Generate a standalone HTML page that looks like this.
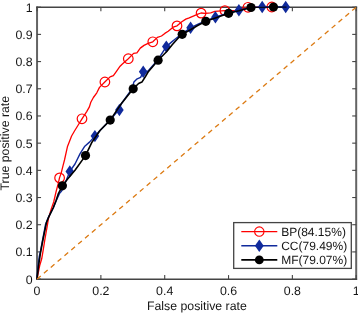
<!DOCTYPE html>
<html><head><meta charset="utf-8"><title>ROC</title>
<style>
html,body{margin:0;padding:0;background:#fff;}
body{width:358px;height:313px;overflow:hidden;}
svg text{font-family:"Liberation Sans",sans-serif;fill:#151515;text-rendering:geometricPrecision;}
.t{font-size:12.35px}
.l{font-size:12.3px}
.g{font-size:12px}
</style></head><body>
<svg width="358" height="313" viewBox="0 0 358 313" style="display:block">
<rect width="358" height="313" fill="#fff"/>
<path d="M37.05,279.95 L37.05,6.45 M356.2,6.45 L356.2,279.95" fill="none" stroke="#646464" stroke-width="2"/>
<path d="M36.15,7.2 L357.09999999999997,7.2 M36.15,279.2 L357.09999999999997,279.2" fill="none" stroke="#444" stroke-width="1.4"/>
<line x1="37.05" y1="279.10" x2="41.05" y2="279.10" stroke="#444" stroke-width="1.1"/>
<line x1="356.2" y1="279.10" x2="352.2" y2="279.10" stroke="#444" stroke-width="1.1"/>
<text x="32.65" y="283.60" text-anchor="end" class="t">0</text>
<line x1="37.05" y1="251.91" x2="41.05" y2="251.91" stroke="#444" stroke-width="1.1"/>
<line x1="356.2" y1="251.91" x2="352.2" y2="251.91" stroke="#444" stroke-width="1.1"/>
<text x="32.65" y="256.41" text-anchor="end" class="t">0.1</text>
<line x1="37.05" y1="224.72" x2="41.05" y2="224.72" stroke="#444" stroke-width="1.1"/>
<line x1="356.2" y1="224.72" x2="352.2" y2="224.72" stroke="#444" stroke-width="1.1"/>
<text x="32.65" y="229.22" text-anchor="end" class="t">0.2</text>
<line x1="37.05" y1="197.53" x2="41.05" y2="197.53" stroke="#444" stroke-width="1.1"/>
<line x1="356.2" y1="197.53" x2="352.2" y2="197.53" stroke="#444" stroke-width="1.1"/>
<text x="32.65" y="202.03" text-anchor="end" class="t">0.3</text>
<line x1="37.05" y1="170.34" x2="41.05" y2="170.34" stroke="#444" stroke-width="1.1"/>
<line x1="356.2" y1="170.34" x2="352.2" y2="170.34" stroke="#444" stroke-width="1.1"/>
<text x="32.65" y="174.84" text-anchor="end" class="t">0.4</text>
<line x1="37.05" y1="143.15" x2="41.05" y2="143.15" stroke="#444" stroke-width="1.1"/>
<line x1="356.2" y1="143.15" x2="352.2" y2="143.15" stroke="#444" stroke-width="1.1"/>
<text x="32.65" y="147.65" text-anchor="end" class="t">0.5</text>
<line x1="37.05" y1="115.96" x2="41.05" y2="115.96" stroke="#444" stroke-width="1.1"/>
<line x1="356.2" y1="115.96" x2="352.2" y2="115.96" stroke="#444" stroke-width="1.1"/>
<text x="32.65" y="120.46" text-anchor="end" class="t">0.6</text>
<line x1="37.05" y1="88.77" x2="41.05" y2="88.77" stroke="#444" stroke-width="1.1"/>
<line x1="356.2" y1="88.77" x2="352.2" y2="88.77" stroke="#444" stroke-width="1.1"/>
<text x="32.65" y="93.27" text-anchor="end" class="t">0.7</text>
<line x1="37.05" y1="61.58" x2="41.05" y2="61.58" stroke="#444" stroke-width="1.1"/>
<line x1="356.2" y1="61.58" x2="352.2" y2="61.58" stroke="#444" stroke-width="1.1"/>
<text x="32.65" y="66.08" text-anchor="end" class="t">0.8</text>
<line x1="37.05" y1="34.39" x2="41.05" y2="34.39" stroke="#444" stroke-width="1.1"/>
<line x1="356.2" y1="34.39" x2="352.2" y2="34.39" stroke="#444" stroke-width="1.1"/>
<text x="32.65" y="38.89" text-anchor="end" class="t">0.9</text>
<line x1="37.05" y1="7.20" x2="41.05" y2="7.20" stroke="#444" stroke-width="1.1"/>
<line x1="356.2" y1="7.20" x2="352.2" y2="7.20" stroke="#444" stroke-width="1.1"/>
<text x="32.65" y="11.70" text-anchor="end" class="t">1</text>
<line x1="37.05" y1="279.1" x2="37.05" y2="275.1" stroke="#444" stroke-width="1.1"/>
<line x1="37.05" y1="7.2" x2="37.05" y2="11.2" stroke="#444" stroke-width="1.1"/>
<text x="37.05" y="295.3" text-anchor="middle" class="t">0</text>
<line x1="100.88" y1="279.1" x2="100.88" y2="275.1" stroke="#444" stroke-width="1.1"/>
<line x1="100.88" y1="7.2" x2="100.88" y2="11.2" stroke="#444" stroke-width="1.1"/>
<text x="100.88" y="295.3" text-anchor="middle" class="t">0.2</text>
<line x1="164.71" y1="279.1" x2="164.71" y2="275.1" stroke="#444" stroke-width="1.1"/>
<line x1="164.71" y1="7.2" x2="164.71" y2="11.2" stroke="#444" stroke-width="1.1"/>
<text x="164.71" y="295.3" text-anchor="middle" class="t">0.4</text>
<line x1="228.54" y1="279.1" x2="228.54" y2="275.1" stroke="#444" stroke-width="1.1"/>
<line x1="228.54" y1="7.2" x2="228.54" y2="11.2" stroke="#444" stroke-width="1.1"/>
<text x="228.54" y="295.3" text-anchor="middle" class="t">0.6</text>
<line x1="292.37" y1="279.1" x2="292.37" y2="275.1" stroke="#444" stroke-width="1.1"/>
<line x1="292.37" y1="7.2" x2="292.37" y2="11.2" stroke="#444" stroke-width="1.1"/>
<text x="292.37" y="295.3" text-anchor="middle" class="t">0.8</text>
<line x1="356.20" y1="279.1" x2="356.20" y2="275.1" stroke="#444" stroke-width="1.1"/>
<line x1="356.20" y1="7.2" x2="356.20" y2="11.2" stroke="#444" stroke-width="1.1"/>
<text x="356.20" y="295.3" text-anchor="middle" class="t">1</text>
<path d="M37.0,279.0 L38.4,272.0 L39.7,265.5 L41.7,258.8 L43.1,250.7 L44.8,240.0 L46.0,233.0 L47.1,226.8 L48.4,218.8 L51.1,209.4 L53.7,202.0 L56.0,192.0 L58.4,182.8 L59.5,177.9 L61.1,173.4 L63.1,165.4 L64.5,160.0 L67.4,146.8 L71.6,136.0 L74.5,131.0 L77.9,125.5 L82.0,118.8 L86.7,111.6 L89.4,106.9 L90.8,102.2 L93.4,97.5 L96.8,92.8 L99.5,87.4 L104.8,82.0 L110.1,76.9 L113.4,75.6 L116.8,70.9 L120.1,66.2 L122.1,64.2 L128.3,58.7 L133.6,53.4 L136.9,52.8 L140.3,48.1 L144.0,45.4 L148.1,43.4 L152.8,41.8 L157.4,37.4 L161.5,36.0 L164.8,33.4 L168.2,31.3 L173.1,27.2 L177.1,25.8 L181.8,21.8 L185.8,19.1 L189.2,17.8 L193.9,15.8 L197.2,14.4 L201.0,13.0 L205.4,13.4 L210.7,12.8 L214.8,11.4 L224.9,10.6 L234.9,10.7 L242.0,8.7 L248.0,7.3 L260.0,7.2 L271.8,7.0" fill="none" stroke="#ff0000" stroke-width="1.3" stroke-linejoin="round"/>
<circle cx="59.6" cy="177.9" r="4.8" fill="none" stroke="#ff0000" stroke-width="1.2"/>
<circle cx="82.0" cy="118.8" r="4.8" fill="none" stroke="#ff0000" stroke-width="1.2"/>
<circle cx="104.9" cy="82.0" r="4.8" fill="none" stroke="#ff0000" stroke-width="1.2"/>
<circle cx="128.3" cy="58.7" r="4.8" fill="none" stroke="#ff0000" stroke-width="1.2"/>
<circle cx="152.8" cy="41.8" r="4.8" fill="none" stroke="#ff0000" stroke-width="1.2"/>
<circle cx="177.0" cy="25.9" r="4.8" fill="none" stroke="#ff0000" stroke-width="1.2"/>
<circle cx="201.1" cy="13.1" r="4.8" fill="none" stroke="#ff0000" stroke-width="1.2"/>
<circle cx="224.9" cy="10.6" r="4.8" fill="none" stroke="#ff0000" stroke-width="1.2"/>
<circle cx="248.0" cy="7.3" r="4.8" fill="none" stroke="#ff0000" stroke-width="1.2"/>
<circle cx="271.8" cy="7.0" r="4.8" fill="none" stroke="#ff0000" stroke-width="1.2"/>
<path d="M37.0,279.0 L38.0,266.0 L39.2,257.0 L40.6,250.7 L42.4,241.0 L45.6,224.2 L48.6,216.8 L53.3,208.0 L56.1,201.0 L59.4,193.6 L61.6,191.0 L64.0,186.0 L69.8,171.4 L75.0,164.0 L80.1,153.6 L84.8,146.2 L89.5,142.1 L94.9,136.1 L100.0,130.5 L110.2,120.1 L119.4,109.0 L121.1,104.0 L132.0,88.8 L133.9,82.1 L137.2,78.8 L140.6,77.4 L143.2,72.0 L148.1,71.0 L158.1,59.5 L166.3,46.6 L171.5,42.1 L175.6,38.7 L182.2,33.6 L190.6,27.8 L194.5,25.8 L198.6,23.8 L205.8,20.8 L215.4,17.2 L228.6,13.0 L238.9,10.3 L251.0,7.5 L262.2,7.0 L285.7,7.0" fill="none" stroke="#102a9c" stroke-width="1.4" stroke-linejoin="round"/>
<path d="M65.5,171.4 L69.8,165.2 L74.1,171.4 L69.8,177.6Z" fill="#102a9c"/>
<path d="M90.6,136.1 L94.9,129.9 L99.2,136.1 L94.9,142.3Z" fill="#102a9c"/>
<path d="M115.1,110.0 L119.4,103.8 L123.7,110.0 L119.4,116.2Z" fill="#102a9c"/>
<path d="M138.9,71.8 L143.2,65.6 L147.5,71.8 L143.2,78.0Z" fill="#102a9c"/>
<path d="M162.0,46.6 L166.3,40.4 L170.6,46.6 L166.3,52.8Z" fill="#102a9c"/>
<path d="M186.3,27.8 L190.6,21.6 L194.9,27.8 L190.6,34.0Z" fill="#102a9c"/>
<path d="M211.1,17.2 L215.4,11.0 L219.7,17.2 L215.4,23.4Z" fill="#102a9c"/>
<path d="M234.6,10.3 L238.9,4.1 L243.2,10.3 L238.9,16.5Z" fill="#102a9c"/>
<path d="M257.9,7.0 L262.2,0.8 L266.5,7.0 L262.2,13.2Z" fill="#102a9c"/>
<path d="M281.4,7.0 L285.7,0.8 L290.0,7.0 L285.7,13.2Z" fill="#102a9c"/>
<path d="M37.0,279.0 L38.4,266.8 L40.4,253.4 L42.7,241.0 L46.4,222.8 L48.8,216.8 L53.1,208.0 L55.9,201.0 L58.4,193.6 L62.4,185.8 L67.8,178.8 L75.0,170.2 L85.5,155.6 L91.6,142.8 L100.0,130.5 L110.2,120.1 L121.1,104.0 L133.2,88.8 L138.6,83.5 L141.9,82.1 L145.3,76.8 L148.1,72.0 L158.1,60.2 L166.8,51.5 L172.2,44.8 L177.6,38.7 L182.2,34.3 L190.5,29.8 L197.2,25.8 L205.8,21.3 L215.4,18.0 L228.6,13.3 L238.9,10.8 L251.0,7.5" fill="none" stroke="#000" stroke-width="1.6" stroke-linejoin="round"/>
<path d="M251.0,7.5 L273.5,7.1 L286.5,7.1" fill="none" stroke="#000" stroke-width="1.0" stroke-linejoin="round"/>
<circle cx="62.4" cy="185.8" r="4.6" fill="#000"/>
<circle cx="85.5" cy="155.6" r="4.6" fill="#000"/>
<circle cx="110.2" cy="120.1" r="4.6" fill="#000"/>
<circle cx="133.2" cy="88.8" r="4.6" fill="#000"/>
<circle cx="158.1" cy="60.2" r="4.6" fill="#000"/>
<circle cx="182.2" cy="34.3" r="4.6" fill="#000"/>
<circle cx="205.8" cy="21.3" r="4.6" fill="#000"/>
<circle cx="228.6" cy="13.3" r="4.6" fill="#000"/>
<circle cx="251.0" cy="7.5" r="4.6" fill="#000"/>
<circle cx="273.5" cy="7.0" r="4.6" fill="#000"/>
<line x1="37.05" y1="279.1" x2="356.2" y2="7.2" stroke="#dc7a12" stroke-width="1.3" stroke-dasharray="4.9,4.1"/>
<text x="196.9" y="309.5" text-anchor="middle" class="l">False positive rate</text>
<text transform="translate(9.1,143.2) rotate(-90)" text-anchor="middle" class="l">True positive rate</text>
<rect x="233.7" y="222.6" width="117.6" height="45.8" fill="#fff" stroke="#444" stroke-width="1.3"/>
<line x1="241.3" y1="231.6" x2="277.3" y2="231.6" stroke="#f00" stroke-width="1.3"/>
<circle cx="259.3" cy="231.6" r="4.7" fill="none" stroke="#f00" stroke-width="1.1"/>
<text x="281.2" y="235.8" class="g">BP(84.15%)</text>
<line x1="241.3" y1="245.8" x2="277.3" y2="245.8" stroke="#102a9c" stroke-width="1.4"/>
<path d="M254.9,245.8 L259.3,239.5 L263.7,245.8 L259.3,252.10000000000002Z" fill="#102a9c"/>
<text x="281.2" y="250.0" class="g">CC(79.49%)</text>
<line x1="241.3" y1="259.9" x2="277.3" y2="259.9" stroke="#000" stroke-width="1.7"/>
<circle cx="259.3" cy="259.9" r="4.4" fill="#000"/>
<text x="281.2" y="264.1" class="g">MF(79.07%)</text>
</svg>
</body></html>
